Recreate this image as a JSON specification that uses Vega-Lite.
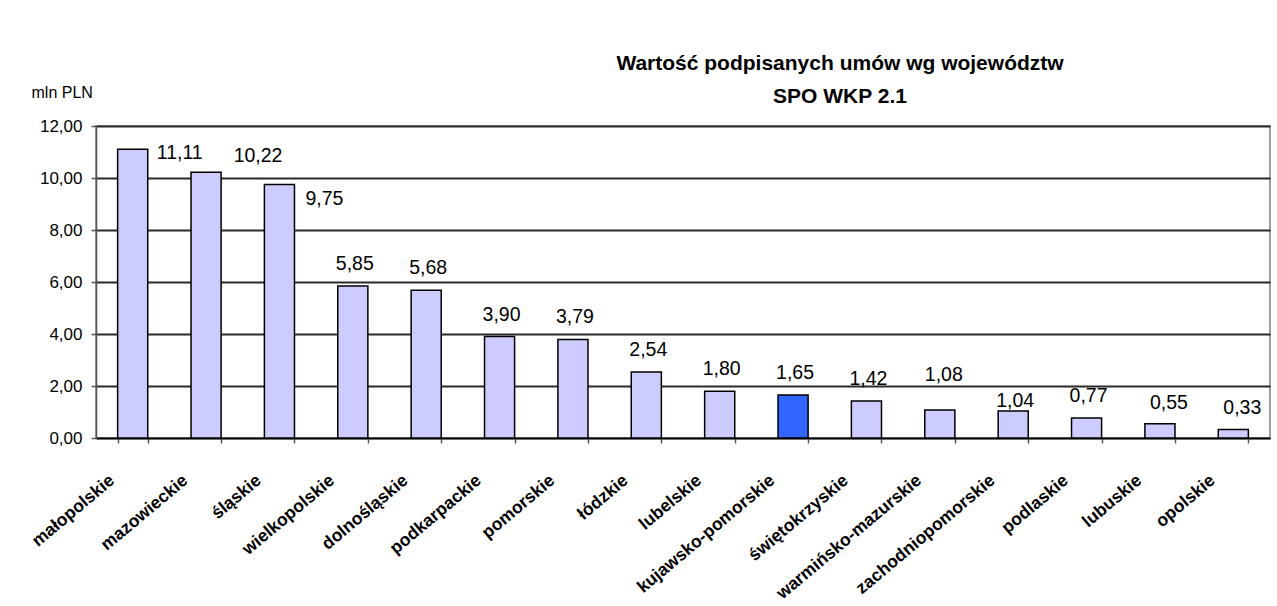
{
  "$schema": "https://vega.github.io/schema/vega-lite/v6.json",
  "autosize": {"type": "none"},
  "padding": {"left": 96, "top": 126, "right": 7, "bottom": 168},
  "width": 1174,
  "height": 312,
  "background": "white",
  "config": {
    "locale": {"number": {"decimal": ",", "thousands": " ", "grouping": [3], "currency": ["", " zł"]}},
    "view": {"stroke": "#808080", "strokeWidth": 1.5},
    "font": "Liberation Sans"
  },
  "title": {
    "text": ["Wartość podpisanych umów wg województw", "SPO WKP 2.1"],
    "font": "Liberation Sans",
    "fontSize": 21,
    "fontWeight": "bold",
    "color": "black",
    "lineHeight": 33,
    "anchor": "middle",
    "frame": "group",
    "dx": 157,
    "dy": 27
  },
  "data": {
    "values": [
      {"woj": "małopolskie", "v": 11.11},
      {"woj": "mazowieckie", "v": 10.22},
      {"woj": "śląskie", "v": 9.75},
      {"woj": "wielkopolskie", "v": 5.85},
      {"woj": "dolnośląskie", "v": 5.68},
      {"woj": "podkarpackie", "v": 3.90},
      {"woj": "pomorskie", "v": 3.79},
      {"woj": "łódzkie", "v": 2.54},
      {"woj": "lubelskie", "v": 1.80},
      {"woj": "kujawsko-pomorskie", "v": 1.65},
      {"woj": "świętokrzyskie", "v": 1.42},
      {"woj": "warmińsko-mazurskie", "v": 1.08},
      {"woj": "zachodniopomorskie", "v": 1.04},
      {"woj": "podlaskie", "v": 0.77},
      {"woj": "lubuskie", "v": 0.55},
      {"woj": "opolskie", "v": 0.33}
    ]
  },
  "encoding": {
    "x": {
      "field": "woj", "type": "nominal", "sort": null,
      "scale": {"paddingInner": 0.59, "paddingOuter": 0.295},
      "axis": {
        "title": null,
        "labelAngle": -40,
        "labelAlign": "right",
        "labelBaseline": "middle",
        "labelOffset": -21,
        "labelPadding": 35,
        "labelLimit": 0,
        "labelFont": "Liberation Sans",
        "labelFontSize": 17.5,
        "labelFontWeight": "bold",
        "labelColor": "black",
        "tickBand": "extent",
        "tickSize": 5,
        "tickColor": "#555",
        "tickWidth": 1.5,
        "domainColor": "black",
        "domainWidth": 1.5,
        "grid": false,
        "labelOverlap": false
      }
    },
    "y": {
      "field": "v", "type": "quantitative",
      "scale": {"domain": [0, 12], "nice": false},
      "axis": {
        "values": [0, 2, 4, 6, 8, 10, 12],
        "format": ".2f",
        "title": "mln PLN",
        "titleAngle": 0,
        "titleAlign": "left",
        "titleBaseline": "alphabetic",
        "titleX": -65,
        "titleY": -29,
        "titleFont": "Liberation Sans",
        "titleFontSize": 16,
        "titleFontWeight": "normal",
        "titleColor": "black",
        "labelFont": "Liberation Sans",
        "labelFontSize": 17,
        "labelColor": "black",
        "labelPadding": 9,
        "tickSize": 5,
        "tickColor": "#555",
        "tickWidth": 1.5,
        "domainColor": "#555",
        "domainWidth": 1.5,
        "grid": true,
        "gridColor": "#2a2a2a",
        "gridWidth": 1.8
      }
    }
  },
  "layer": [
    {
      "mark": {"type": "bar", "stroke": "black", "strokeWidth": 1.5},
      "encoding": {
        "fill": {
          "condition": {"test": "datum.woj === 'kujawsko-pomorskie'", "value": "#3366FF"},
          "value": "#CCCCFF"
        }
      }
    },
    {
      "transform": [{"filter": {"field": "woj", "oneOf": ["wielkopolskie", "dolnośląskie", "podkarpackie", "pomorskie", "łódzkie", "lubelskie", "kujawsko-pomorskie", "świętokrzyskie", "podlaskie"]}}],
      "mark": {"type": "text", "font": "Liberation Sans", "fontSize": 19.5, "color": "black", "baseline": "alphabetic", "dx": 2, "dy": -16},
      "encoding": {"text": {"field": "v", "type": "quantitative", "format": ".2f"}}
    },
    {
      "transform": [{"filter": {"field": "woj", "oneOf": ["lubuskie", "opolskie"]}}],
      "mark": {"type": "text", "font": "Liberation Sans", "fontSize": 19.5, "color": "black", "baseline": "alphabetic", "dx": 9, "dy": -15},
      "encoding": {"text": {"field": "v", "type": "quantitative", "format": ".2f"}}
    },
    {
      "transform": [{"filter": {"field": "woj", "equal": "małopolskie"}}],
      "mark": {"type": "text", "font": "Liberation Sans", "fontSize": 19.5, "color": "black", "baseline": "alphabetic", "dx": 47, "dy": 10},
      "encoding": {"text": {"field": "v", "type": "quantitative", "format": ".2f"}}
    },
    {
      "transform": [{"filter": {"field": "woj", "equal": "mazowieckie"}}],
      "mark": {"type": "text", "font": "Liberation Sans", "fontSize": 19.5, "color": "black", "baseline": "alphabetic", "dx": 52, "dy": -10},
      "encoding": {"text": {"field": "v", "type": "quantitative", "format": ".2f"}}
    },
    {
      "transform": [{"filter": {"field": "woj", "equal": "śląskie"}}],
      "mark": {"type": "text", "font": "Liberation Sans", "fontSize": 19.5, "color": "black", "baseline": "alphabetic", "dx": 45, "dy": 20},
      "encoding": {"text": {"field": "v", "type": "quantitative", "format": ".2f"}}
    },
    {
      "transform": [{"filter": {"field": "woj", "equal": "warmińsko-mazurskie"}}],
      "mark": {"type": "text", "font": "Liberation Sans", "fontSize": 19.5, "color": "black", "baseline": "alphabetic", "dx": 4, "dy": -29},
      "encoding": {"text": {"field": "v", "type": "quantitative", "format": ".2f"}}
    },
    {
      "transform": [{"filter": {"field": "woj", "equal": "zachodniopomorskie"}}],
      "mark": {"type": "text", "font": "Liberation Sans", "fontSize": 19.5, "color": "black", "baseline": "alphabetic", "dx": 2, "dy": -4},
      "encoding": {"text": {"field": "v", "type": "quantitative", "format": ".2f"}}
    }
  ]
}
